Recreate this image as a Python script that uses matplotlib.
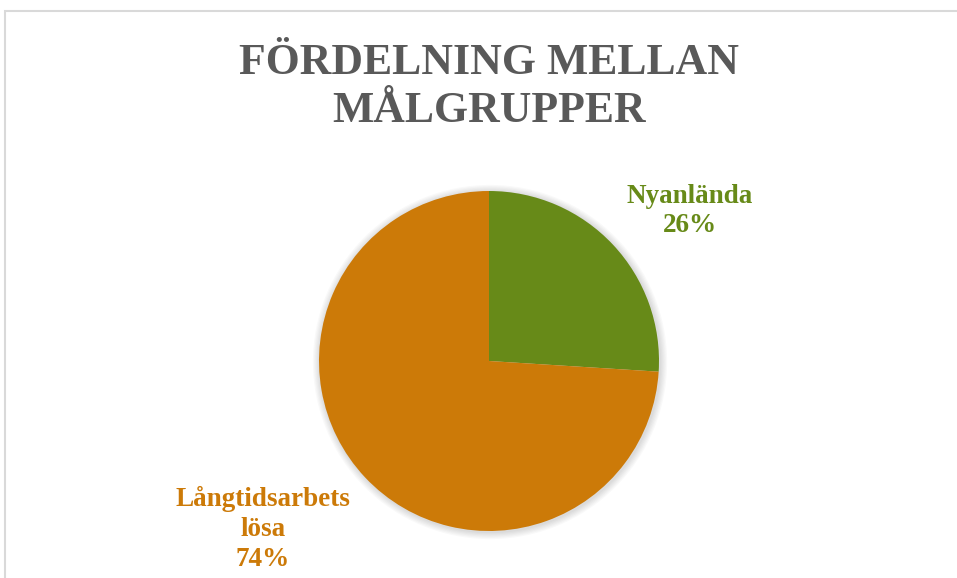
import matplotlib.pyplot as plt
from matplotlib.patches import Rectangle, Circle

# Data
categories = ["Nyanlända", "Långtidsarbets\nlösa"]
shares = [26, 74]
colors = ["#678A18", "#CC7A08"]
title = "FÖRDELNING MELLAN\nMÅLGRUPPER"

W, H = 957, 578
fig = plt.figure(figsize=(W / 100, H / 100), dpi=100)
plt.rcParams['font.family'] = ['Liberation Serif', 'DejaVu Serif']

# chart frame (cropped on right/bottom)
fig.patches.append(Rectangle((5 / W, -0.01), 1.0, (H - 11) / H + 0.01,
                             transform=fig.transFigure, fill=False,
                             edgecolor="#D9D9D9", linewidth=1.5))

fig.text(489 / W, 1 - 87 / H, title, ha="center", va="center",
         fontsize=31.5, fontweight="bold", color="#595959", linespacing=1.24)

# Pie placed by its bounding box in pixels
cx, cy, r = 489, 361, 170
ax = fig.add_axes([0, 0, 1, 1])

# soft shadow round the pie
for k in range(6):
    ax.add_patch(Circle((0.006, -0.006), 1.0 + 0.007 * (k + 1), color="black",
                        alpha=0.025, lw=0, zorder=0))

wedges, _ = ax.pie(shares, colors=colors, startangle=90, counterclock=False,
                   wedgeprops=dict(linewidth=0, zorder=2))
ax.set_xlim(-1.05, 1.05)
ax.set_ylim(-1.05, 1.05)
ax.set_aspect("equal")
ax.axis("off")
# keep the pie radius at r pixels
pad = 1.05 * r
ax.set_position([(cx - pad) / W, (H - cy - pad) / H, 2 * pad / W, 2 * pad / H])

# Data labels
label_pos = [(690, 211), (263, 529)]
for cat, val, col, (lx, ly) in zip(categories, shares, colors, label_pos):
    fig.text(lx / W, 1 - ly / H, f"{cat}\n{val}%", ha="center", va="center",
             fontsize=19.5, fontweight="bold", color=col, linespacing=1.24)

fig.savefig("out.png", dpi=100)
